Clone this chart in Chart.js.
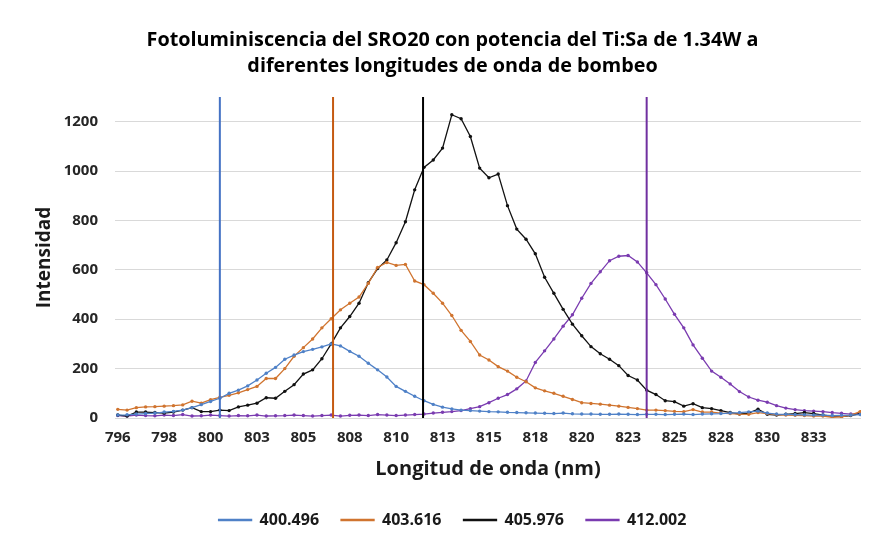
<!DOCTYPE html>
<html>
<head>
<meta charset="utf-8">
<script src="https://cdn.jsdelivr.net/npm/chart.js@4.4.1/dist/chart.umd.min.js"></script>
<style>
  body { margin: 0; background: #fff; }
  #contenedor { width: 877px; height: 546px; }
</style>
</head>
<body>
<div id="contenedor"><canvas id="grafico" width="877" height="546"></canvas></div>
<script>
// longitud de onda (nm)
const longitudes = [
  795.5, 796, 796.5, 797, 797.5, 798, 798.5, 799, 799.5, 800,
  800.5, 801, 801.5, 802, 802.5, 803, 803.5, 804, 804.5, 805,
  805.5, 806, 806.5, 807, 807.5, 808, 808.5, 809, 809.5, 810,
  810.5, 811, 811.5, 812, 812.5, 813, 813.5, 814, 814.5, 815,
  815.5, 816, 816.5, 817, 817.5, 818, 818.5, 819, 819.5, 820,
  820.5, 821, 821.5, 822, 822.5, 823, 823.5, 824, 824.5, 825,
  825.5, 826, 826.5, 827, 827.5, 828, 828.5, 829, 829.5, 830,
  830.5, 831, 831.5, 832, 832.5, 833, 833.5, 834, 834.5, 835,
  835.5
];

const serie400 = [
  12, 13, 16, 18, 20, 24, 27, 32, 42, 54,
  67, 80, 100, 113, 130, 154, 181, 205, 238, 255,
  269, 278, 288, 300, 292, 270, 250, 222, 195, 166,
  128, 108, 88, 70, 55, 44, 37, 32, 30, 28,
  26, 25, 23, 22, 21, 20, 19, 18, 20, 17,
  16, 16, 15, 15, 16, 15, 14, 15, 15, 14,
  15, 16, 14, 16, 17, 18, 20, 22, 25, 28,
  20, 16, 15, 14, 13, 12, 12, 10, 11, 12,
  14
];

const serie403 = [
  35, 32, 42, 45, 46, 48, 50, 53, 68, 60,
  74, 84, 92, 102, 115, 128, 160, 160, 200, 250,
  285, 320, 365, 402, 438, 465, 490, 545, 610, 630,
  618, 622, 555, 540, 505, 465, 415, 355, 310, 255,
  235, 208, 190, 165, 147, 122, 110, 100, 88, 75,
  62, 59, 56, 52, 48, 43, 38, 32, 32, 30,
  27, 26, 34, 24, 24, 20, 18, 16, 15, 22,
  18, 14, 12, 11, 10, 8, 8, 3, 5, 12,
  26
];

const serie405 = [
  12, 8, 24, 24, 22, 20, 24, 32, 42, 26,
  26, 32, 30, 45, 52, 60, 82, 80, 108, 135,
  178, 195, 240, 300, 365, 411, 465, 548, 605, 640,
  710, 795, 924, 1015, 1045, 1093, 1228, 1212, 1140, 1012,
  973, 988, 860, 765, 724, 665, 570, 505, 440, 380,
  333, 289, 260, 238, 212, 172, 154, 113, 95, 70,
  66, 48, 58, 42, 38, 30, 22, 16, 20, 36,
  15, 12, 15, 18, 22, 18, 12, 8, 6, 10,
  18
];

const serie412 = [
  10, 8, 12, 10, 9, 12, 10, 14, 8, 9,
  12, 10, 8, 10, 9, 12, 8, 9, 10, 12,
  10, 8, 10, 12, 8, 11, 12, 10, 14, 12,
  10, 12, 14, 16, 20, 23, 26, 30, 38, 46,
  62, 80, 95, 118, 150, 225, 272, 320, 372, 418,
  485, 545, 592, 637, 655, 658, 632, 588, 540, 482,
  420, 365, 296, 242, 190, 165, 138, 107, 85, 72,
  64, 50, 40, 34, 30, 28, 26, 22, 19, 16,
  18
];

const bombeo = ["400.496", "403.616", "405.976", "412.002"];
// posicion de las lineas verticales (nm)
const lineasBombeo = [801.0, 807.1, 811.95, 824.0];

const ticksX = [795.5, 798, 800.5, 803, 805.5, 808, 810.5, 813, 815.5, 818, 820.5, 823, 825.5, 828, 830.5, 833];
const etiquetasX = ["796", "798", "800", "803", "805", "808", "810", "813", "815", "818", "820", "823", "825", "828", "830", "833"];

const series = [serie400, serie403, serie405, serie412];
const colores = ["#4f81c7", "#d0742f", "#111111", "#7a3bb0"];
const coloresLinea = ["#4472c4", "#c55a11", "#000000", "#7030a0"];

Chart.defaults.font.family = "'Open Sans', Lato, sans-serif";
Chart.defaults.color = "#262626";

let datasets = series.map((valores, i) => {
  return {
    label: bombeo[i],
    data: longitudes.map((x, j) => ({ x: x, y: valores[j] })),
    borderColor: colores[i],
    backgroundColor: colores[i],
    borderWidth: 1.3,
    pointRadius: 1.7,
    pointBorderWidth: 0,
    pointBackgroundColor: colores[i],
    order: 1
  };
});

lineasBombeo.forEach((x, i) => {
  datasets.push({
    label: "linea " + bombeo[i],
    data: [{ x: x, y: 0 }, { x: x, y: 1300 }],
    borderColor: coloresLinea[i],
    borderWidth: 2,
    pointRadius: 0,
    order: 0
  });
});

const config = {
  type: "line",
  data: { datasets: datasets },
  options: {
    responsive: false,
    animation: false,
    layout: { padding: { left: 28, right: 0, top: 0, bottom: 8 } },
    plugins: {
      tooltip: { enabled: false },
      title: {
        display: true,
        text: ["Fotoluminiscencia del SRO20 con potencia del Ti:Sa de 1.34W a", "diferentes longitudes de onda de bombeo"],
        color: "#000",
        font: { size: 19.8, weight: "bold", lineHeight: 1.313 },
        padding: { top: 27, bottom: 18 }
      },
      legend: {
        position: "bottom",
        labels: {
          filter: (item) => item.datasetIndex < 4,
          boxWidth: 33,
          boxHeight: 1,
          padding: 22,
          color: "#1a1a1a",
          font: { size: 16, weight: "bold" }
        }
      }
    },
    scales: {
      x: {
        type: "linear",
        min: 795.35,
        max: 835.55,
        afterBuildTicks: (scale) => {
          scale.ticks = ticksX.map((v) => ({ value: v }));
        },
        afterFit: (scale) => { scale.height = 72; },
        ticks: {
          autoSkip: false,
          maxRotation: 0,
          padding: 11,
          font: { size: 15, weight: "bold" },
          callback: (v, i) => etiquetasX[i]
        },
        grid: { display: false, drawTicks: false },
        border: { display: false },
        title: {
          display: true,
          text: "Longitud de onda (nm)",
          color: "#1a1a1a",
          font: { size: 20, weight: "bold" },
          padding: { top: 4, bottom: 9 }
        }
      },
      y: {
        min: 0,
        max: 1300,
        afterFit: (scale) => { scale.width = 87; },
        ticks: {
          stepSize: 200,
          includeBounds: false,
          padding: 17,
          font: { size: 15, weight: "bold" },
          callback: (v) => String(v)
        },
        grid: { color: "#d9d9d9", drawTicks: false },
        border: { display: false },
        title: {
          display: true,
          text: "Intensidad",
          color: "#1a1a1a",
          font: { size: 19, weight: "bold" },
          padding: { top: 5, bottom: 0 }
        }
      },
      derecha: {
        position: "right",
        display: true,
        afterFit: (scale) => { scale.width = 16; },
        ticks: { display: false },
        grid: { display: false, drawTicks: false },
        border: { display: false }
      }
    }
  }
};

const grafico = document.getElementById("grafico");
const myChart = new Chart(grafico, config);
</script>
</body>
</html>
